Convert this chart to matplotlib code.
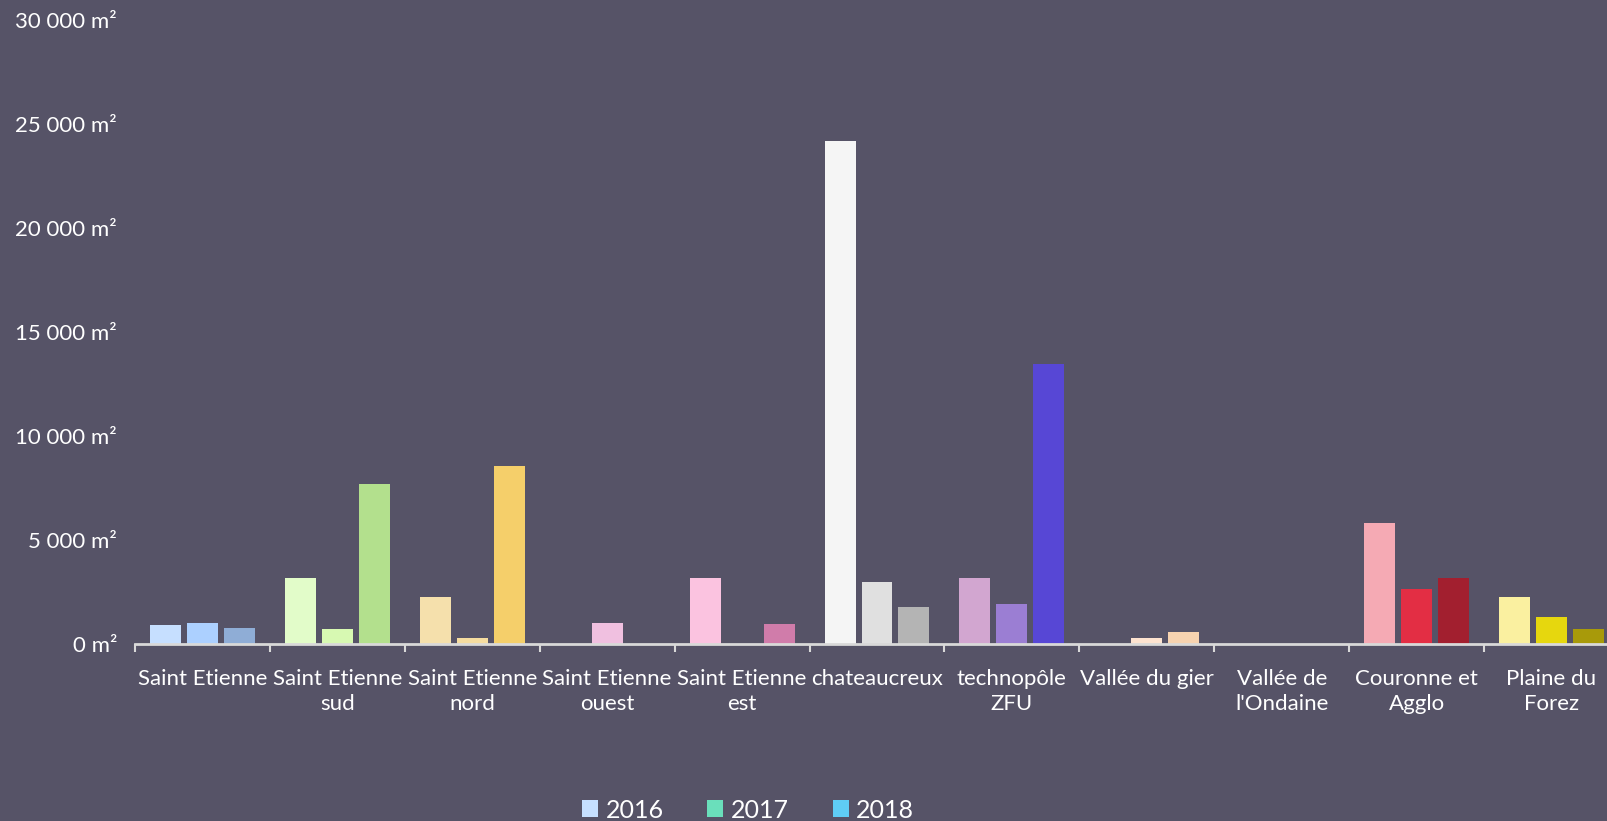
import matplotlib
matplotlib.use("Agg")
import matplotlib.pyplot as plt
from matplotlib.patches import Patch
import numpy as np

categories = ["Saint Etienne", "Saint Etienne\nsud", "Saint Etienne\nnord", "Saint Etienne\nouest",
              "Saint Etienne\nest", "chateaucreux", "technopôle\nZFU", "Vallée du gier",
              "Vallée de\nl'Ondaine", "Couronne et\nAgglo", "Plaine du\nForez"]
years = ["2016", "2017", "2018"]
v2016 = [900, 3150, 2250, 0, 3150, 24200, 3150, 0, 0, 5800, 2250]
v2017 = [1030, 700, 310, 1030, 0, 3000, 1900, 310, 0, 2650, 1300]
v2018 = [750, 7700, 8550, 0, 980, 1800, 13450, 600, 0, 3150, 720]

bar_colors = [
    ["#c6dfff", "#acd0ff", "#8fadd6"],
    ["#e2fcc9", "#d7f9b2", "#b3e08d"],
    ["#f5e0ac", "#f5dca0", "#f5cf6a"],
    ["#f0c0e0", "#f0c0e0", "#f0c0e0"],
    ["#fbc3e0", "#e8a0c8", "#d07caa"],
    ["#f5f5f5", "#e0e0e0", "#b4b4b4"],
    ["#d2a6d0", "#9b7ed3", "#5747d5"],
    ["#fde4d2", "#fde3d0", "#f7d3b0"],
    ["#cccccc", "#cccccc", "#cccccc"],
    ["#f5aab4", "#e32e44", "#a21f2f"],
    ["#faf0a0", "#e6d70e", "#a89a0a"],
]
legend_colors = ["#c6dfff", "#6adfbb", "#5fcdf5"]

BG = "#565367"
FONT = "Lato"
plt.rcParams['font.family'] = [FONT, 'DejaVu Sans']

fig = plt.figure(figsize=(16.07, 8.21), dpi=100, facecolor=BG)
ax = fig.add_axes([135/1607, 1-644/821, 1484/1607, (644-20)/821])
ax.set_facecolor(BG)

x = np.arange(len(categories))
width = 31/135
step = 37/135
series = [v2016, v2017, v2018]
for j, vals in enumerate(series):
    for i, v in enumerate(vals):
        if v > 0:
            ax.bar(x[i] + (j-1)*step, v, width=width, color=bar_colors[i][j], linewidth=0)

ax.set_xlim(-0.5, len(categories)-0.5)
ax.set_ylim(0, 30000)
yt = np.arange(0, 30001, 5000)
ax.set_yticks(yt)
ax.set_yticklabels([("{:,}".format(int(t)).replace(",", " ") + " m²") for t in yt],
                   color="white", fontsize=16)
ax.tick_params(axis='y', length=0, pad=13)

ax.set_xticks(np.arange(-0.5, len(categories)), minor=False)
ax.set_xticklabels([])
ax.tick_params(axis='x', which='major', length=6, width=1.5, color="#d9d9d9", direction='out')
ax.set_xticks(x, minor=True)
ax.set_xticklabels(categories, minor=True, color="white", fontsize=16, linespacing=1.33)
ax.tick_params(axis='x', which='minor', length=0, pad=18)

for s in ["left", "right", "top"]:
    ax.spines[s].set_visible(False)
ax.spines["bottom"].set_color("#d9d9d9")
ax.spines["bottom"].set_linewidth(2)

handles = [Patch(facecolor=c, edgecolor='none') for c in legend_colors]
fig.legend(handles, years, loc='center', bbox_to_anchor=(748/1607, 1-810/821), ncol=3,
           frameon=False, fontsize=18, labelcolor="white", handlelength=0.64, handleheight=0.64,
           handletextpad=0.3, columnspacing=1.75, borderpad=0, borderaxespad=0)

fig.savefig("out.png", dpi=100, facecolor=BG)
